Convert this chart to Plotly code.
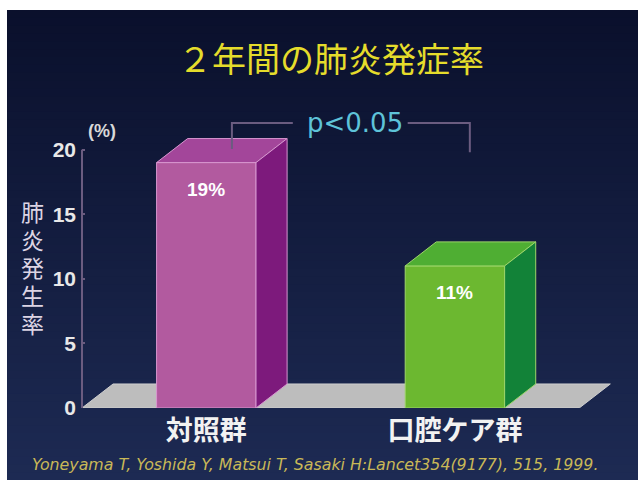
import plotly.graph_objects as go

# ---------------- data ----------------
categories = ["対照群", "口腔ケア群"]
rates = [19, 11]
value_labels = ["19%", "11%"]
y_ticks = [0, 5, 10, 15, 20]
title_text = "２年間の肺炎発症率"
y_title = "肺炎発生率"
unit_text = "(%)"
p_text = "p<0.05"
citation = "Yoneyama T, Yoshida Y, Matsui T, Sasaki H:Lancet354(9177), 515, 1999."

# ---------------- layout constants ----------------
W, H = 638, 480
ML, MR, MT, MB = 82, 19, 98, 72
PW = W - ML - MR
PH = H - MT - MB


def px(x):
    return (x - ML) / PW


def py(y):
    return (H - MB - y) / PH


x_pos = list(range(len(categories)))
BAR_W = 0.4
DX, DY = 0.125, 1.86
X_RANGE = [-0.5, 1.66]
Y_RANGE = [0, 24]

front_colors = ["#b25a9f", "#6cb830"]
top_colors = ["#a3469a", "#4fae33"]
side_colors = ["#7d1a7c", "#128238"]
edge_colors = ["#d796cf", "#9ed66a"]
axis_color = "#6b5c80"
CJK = "Noto Sans CJK JP"
LAT = "Liberation Sans"

shapes = []

# background: white frame + dark navy vertical gradient (each band runs to the bottom, no seams)
top_rgb = (10, 16, 44)
bot_rgb = (29, 42, 83)
N = 60
y_start, y_end = 10, H
for i in range(N):
    t = i / (N - 1)
    c = tuple(int(round(a + (b - a) * t)) for a, b in zip(top_rgb, bot_rgb))
    ya = y_start + (y_end - y_start) * i / N
    shapes.append(dict(type="rect", xref="paper", yref="paper",
                       x0=px(7), x1=px(W + 2), y0=py(H + 2), y1=py(ya),
                       fillcolor="rgb(%d,%d,%d)" % c, line=dict(width=0), layer="below"))

# floor
fx0, fx1 = X_RANGE[0], x_pos[-1] + 0.5
shapes.append(dict(type="path", xref="x", yref="y",
                   path=f"M {fx0},0 L {fx1},0 L {fx1 + DX},{DY} L {fx0 + DX},{DY} Z",
                   fillcolor="#bdbdbd", line=dict(color="#cfcfcf", width=1), layer="below"))

# y axis line (0..20)
shapes.append(dict(type="line", xref="paper", yref="y", x0=0, x1=0,
                   y0=y_ticks[0], y1=y_ticks[-1], line=dict(color=axis_color, width=2)))

# significance bracket
bx_l, bx_l2, bx_r1, bx_r = 0.103, 0.348, 0.81, 1.06
by_top, by_l, by_r = 22.06, 20.05, 19.8
shapes.append(dict(type="path", xref="x", yref="y",
                   path=f"M {bx_l},{by_l} L {bx_l},{by_top} L {bx_l2},{by_top}",
                   line=dict(color=axis_color, width=2)))
shapes.append(dict(type="path", xref="x", yref="y",
                   path=f"M {bx_r1},{by_top} L {bx_r},{by_top} L {bx_r},{by_r}",
                   line=dict(color=axis_color, width=2)))

fig = go.Figure()

# front faces
fig.add_trace(go.Bar(x=x_pos, y=rates, width=BAR_W,
                     marker=dict(color=front_colors, line=dict(color=edge_colors, width=1)),
                     hoverinfo="skip", showlegend=False))

# top and side faces
for i, (xc, v) in enumerate(zip(x_pos, rates)):
    xl, xr = xc - BAR_W / 2, xc + BAR_W / 2
    fig.add_trace(go.Scatter(
        x=[xl, xr, xr + DX, xl + DX, xl], y=[v, v, v + DY, v + DY, v],
        fill="toself", fillcolor=top_colors[i], mode="lines",
        line=dict(color=edge_colors[i], width=1), hoverinfo="skip", showlegend=False))
    fig.add_trace(go.Scatter(
        x=[xr, xr + DX, xr + DX, xr, xr], y=[0, DY, v + DY, v, 0],
        fill="toself", fillcolor=side_colors[i], mode="lines",
        line=dict(color=edge_colors[i], width=1), hoverinfo="skip", showlegend=False))

annotations = []
for xc, v, lab in zip(x_pos, rates, value_labels):
    annotations.append(dict(x=xc, y=v - 2.05, xref="x", yref="y", text=lab, showarrow=False,
                            font=dict(family=LAT, size=19, color="#ffffff", weight="bold"),
                            xanchor="center", yanchor="middle"))

annotations.append(dict(x=0.60, y=by_top, xref="x", yref="y", text=p_text, showarrow=False,
                        font=dict(family="DejaVu Sans", size=26, color="#5ec3d9"),
                        xanchor="center", yanchor="middle"))

annotations.append(dict(x=px(331), y=py(57.5), xref="paper", yref="paper", text=title_text,
                        showarrow=False, font=dict(family=CJK, size=34, color="#e5dc2b"),
                        xanchor="center", yanchor="middle"))

# vertical y title, one character per row
char_step = 28
for k, ch in enumerate(y_title):
    yc = 269 + (k - (len(y_title) - 1) / 2) * char_step
    annotations.append(dict(x=px(32), y=py(yc), xref="paper", yref="paper",
                            text=ch, showarrow=False,
                            font=dict(family=LAT + ", " + CJK, size=23, color="#dcd4e4"),
                            xanchor="center", yanchor="middle"))

annotations.append(dict(x=px(102), y=py(131), xref="paper", yref="paper", text=unit_text,
                        showarrow=False, font=dict(family=LAT, size=18, color="#d8d8d8", weight="bold"),
                        xanchor="center", yanchor="middle"))

annotations.append(dict(x=px(315), y=py(464), xref="paper", yref="paper", text=citation,
                        showarrow=False,
                        font=dict(family="DejaVu Sans", size=15.8, color="#c9b857", style="italic"),
                        xanchor="center", yanchor="middle"))

fig.update_layout(
    width=W, height=H,
    margin=dict(l=ML, r=MR, t=MT, b=MB, pad=0),
    paper_bgcolor="#ffffff", plot_bgcolor="rgba(0,0,0,0)",
    shapes=shapes, annotations=annotations, showlegend=False,
    xaxis=dict(range=X_RANGE, tickvals=x_pos, ticktext=categories, showgrid=False,
               zeroline=False, showline=False, ticks="", ticklabelstandoff=4,
               tickfont=dict(family=CJK, size=27, color="#f2f2f2", weight="bold")),
    yaxis=dict(range=Y_RANGE, tickvals=y_ticks, showgrid=False, zeroline=False,
               showline=False, ticks="inside", ticklen=3, tickwidth=2, tickcolor=axis_color,
               ticklabelstandoff=5,
               tickfont=dict(family=LAT, size=21, color="#e8e8e8", weight="bold")),
)

fig.write_html("out.html")
